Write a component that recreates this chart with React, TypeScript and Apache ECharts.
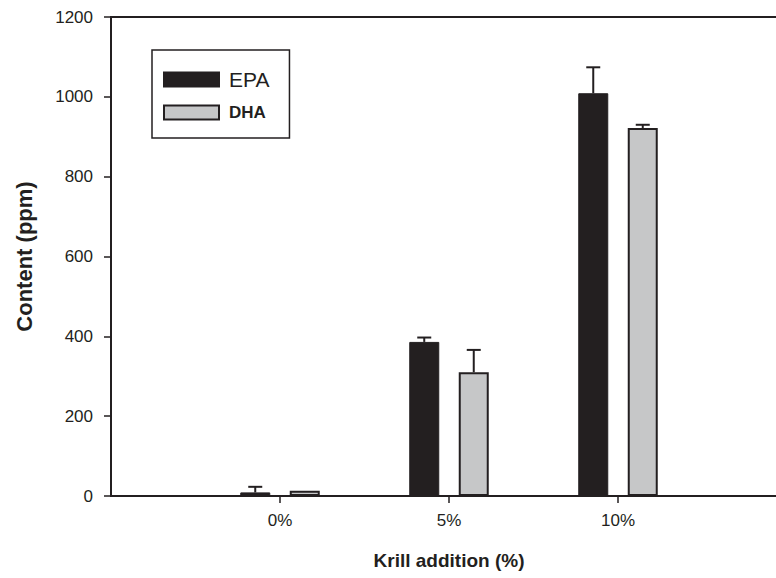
import React, { useEffect, useRef } from "react";
import * as echarts from "echarts";

const categories = ["", "0%", "5%", "10%", ""];
const epaValues = [null, 9, 386, 1009, null];
const dhaValues = [null, 13, 310, 922, null];
const epaErrors = [null, 14, 11, 65, null];
const dhaErrors = [null, 0, 56, 8, null];
const yTicks = { min: 0, max: 1200, interval: 200 };

const INK = "#231f20";
const GREY = "#c6c7c8";
const BAR_W = 30;
const GAP_PX = 19.5;

export default function App() {
  const ref = useRef<HTMLDivElement>(null);
  useEffect(() => {
    if (!ref.current) return;
    const chart = echarts.init(ref.current, null, { renderer: "svg" });
    const offset = (BAR_W + GAP_PX) / 2;
    const errItem = (vals: any[], errs: any[], dir: number) => (params: any, api: any) => {
      const i = params.dataIndex;
      const v = vals[i];
      const e = errs[i];
      if (v == null || !e) return null;
      const base = api.coord([i, v]);
      const top = api.coord([i, v + e]);
      const x = base[0] + dir * offset;
      const style = { stroke: INK, lineWidth: 2 };
      return {
        type: "group",
        children: [
          { type: "line", shape: { x1: x, y1: base[1], x2: x, y2: top[1] }, style },
          { type: "line", shape: { x1: x - 7, y1: top[1], x2: x + 7, y2: top[1] }, style },
        ],
      };
    };
    chart.setOption({
      animation: false,
      grid: {
        left: 111,
        top: 17,
        width: 676,
        bottom: 82,
        outerBoundsMode: "none",
        containLabel: false,
        show: true,
        borderColor: INK,
        borderWidth: 2,
      },
      legend: {
        left: 152,
        top: 50,
        orient: "vertical",
        icon: "rect",
        itemWidth: 55,
        itemHeight: 14,
        itemGap: 14,
        padding: [19, 20, 17, 11],
        borderColor: INK,
        borderWidth: 1.5,
        selectedMode: false,
        data: [
          {
            name: "EPA",
            textStyle: { fontSize: 21, lineHeight: 14, fontFamily: "Liberation Sans", color: INK, padding: [0, 0, 0, 5] },
          },
          {
            name: "DHA",
            textStyle: { fontSize: 17, fontWeight: "bold", lineHeight: 14, fontFamily: "Liberation Sans", color: INK, padding: [0, 0, 0, 5] },
          },
        ],
      },
      xAxis: {
        type: "category",
        data: categories,
        boundaryGap: false,
        name: "Krill addition (%)",
        nameLocation: "middle",
        nameGap: 55,
        nameTextStyle: {
          fontFamily: "Liberation Sans",
          fontWeight: "bold",
          fontSize: 19,
          color: INK,
        },
        axisLine: { lineStyle: { color: INK, width: 2 } },
        axisTick: {
          length: 7,
          lineStyle: { color: INK, width: 1.5 },
          interval: (i: number) => categories[i] !== "",
        },
        axisLabel: {
          margin: 16,
          fontSize: 17,
          fontFamily: "Liberation Sans",
          color: INK,
          interval: 0,
        },
        splitLine: { show: false },
      },
      yAxis: {
        type: "value",
        min: yTicks.min,
        max: yTicks.max,
        interval: yTicks.interval,
        name: "Content (ppm)",
        nameLocation: "middle",
        nameGap: 76,
        nameTextStyle: {
          fontFamily: "Liberation Sans",
          fontWeight: "bold",
          fontSize: 22,
          color: INK,
        },
        axisLine: { show: true, lineStyle: { color: INK, width: 2 } },
        axisTick: { show: true, length: 7, lineStyle: { color: INK, width: 1.5 } },
        axisLabel: {
          margin: 18,
          fontSize: 17,
          fontFamily: "Liberation Sans",
          color: INK,
          formatter: (v: number) => String(v),
        },
        splitLine: { show: false },
      },
      series: [
        {
          name: "EPA",
          type: "bar",
          data: epaValues,
          barWidth: BAR_W,
          barGap: (GAP_PX / BAR_W) * 100 + "%",
          itemStyle: { color: INK, borderColor: INK, borderWidth: 1 },
        },
        {
          name: "DHA",
          type: "bar",
          data: dhaValues,
          barWidth: BAR_W,
          itemStyle: { color: GREY, borderColor: INK, borderWidth: 2 },
        },
        {
          type: "custom",
          name: "EPA error",
          data: epaValues.map((v, i) => [i, v]),
          renderItem: errItem(epaValues, epaErrors, -1),
          z: 5,
        },
        {
          type: "custom",
          name: "DHA error",
          data: dhaValues.map((v, i) => [i, v]),
          renderItem: errItem(dhaValues, dhaErrors, 1),
          z: 5,
        },
      ],
    });
    return () => chart.dispose();
  }, []);
  return (
    <div
      ref={ref}
      style={{ position: "fixed", left: 0, top: 0, width: 776, height: 578, background: "#fff" }}
    />
  );
}
